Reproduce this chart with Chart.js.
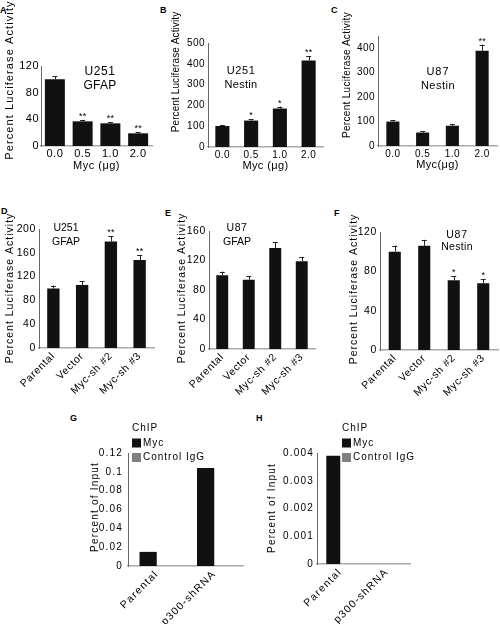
<!DOCTYPE html>
<html><head><meta charset="utf-8">
<script src="https://cdn.jsdelivr.net/npm/chart.js@4/dist/chart.umd.min.js"></script>
<style>
body{margin:0;background:#fff;}
#fig{position:relative;width:500px;height:624px;overflow:hidden;background:#fff;font-family:'Liberation Sans',Arial,sans-serif;}
#fig canvas{position:absolute;}
.lt{position:absolute;font-weight:bold;font-size:9px;line-height:9px;color:#000;}
</style></head><body>
<div id="fig">
<div class="lt" style="left:0px;top:6px">A</div>
<div class="lt" style="left:160px;top:6px">B</div>
<div class="lt" style="left:331px;top:6px">C</div>
<div class="lt" style="left:1px;top:207px">D</div>
<div class="lt" style="left:165px;top:209px">E</div>
<div class="lt" style="left:334px;top:209px">F</div>
<div class="lt" style="left:70px;top:414px">G</div>
<div class="lt" style="left:256px;top:414px">H</div>
</div>
<script>
// ---------- data ----------
const mycDoses = ['0.0', '0.5', '1.0', '2.0'];
const shCats = ['Parental', 'Vector', 'Myc-sh #2', 'Myc-sh #3'];
const chipCats = ['Parental', 'p300-shRNA'];

const aValues = [100, 37, 34, 19];
const aErrors = [5, 2, 1.5, 2];
const aStars = ['', '**', '**', '**'];
const aTicks = [0, 40, 80, 120];

const bValues = [101, 127, 185, 416];
const bErrors = [3, 6, 9, 20];
const bStars = ['', '*', '*', '**'];
const bTicks = [0, 100, 200, 300, 400, 500];

const cValues = [100, 55, 83, 390];
const cErrors = [6, 5, 5, 25];
const cStars = ['', '', '', '**'];
const cTicks = [0, 100, 200, 300, 400];

const dValues = [100, 106, 179, 148];
const dErrors = [5, 6, 9, 8];
const dStars = ['', '', '**', '**'];
const dTicks = [0, 40, 80, 120, 160, 200];

const eValues = [100, 94, 137, 119];
const eErrors = [5, 5, 8, 6];
const eStars = ['', '', '', ''];
const eTicks = [0, 40, 80, 120, 160];

const fValues = [100, 106, 71, 68];
const fErrors = [6, 6, 4, 4];
const fStars = ['', '', '*', '*'];
const fTicks = [0, 40, 80, 120];

const gMyc = [0.015, 0.104];
const gIgG = [0, 0];
const gTicks = [0, 0.02, 0.04, 0.06, 0.08, 0.1, 0.12];

const hMyc = [0.0039, 0];
const hIgG = [0, 0];
const hTicks = [0, 0.001, 0.002, 0.003, 0.004];

// ---------- drawing ----------
const FF = "'Liberation Sans', Arial, Helvetica, sans-serif";
const fig = document.getElementById('fig');
const BAR = '#111111';
const IGG = '#808080';

function makePanel(p) {
  const [bx, by, bw, bh] = p.box;
  const [l, t, r, b] = p.area;
  const cv = document.createElement('canvas');
  cv.width = bw; cv.height = bh;
  cv.style.left = bx + 'px'; cv.style.top = by + 'px';
  cv.style.width = bw + 'px'; cv.style.height = bh + 'px';
  fig.appendChild(cv);
  const yW = l - bx, xH = by + bh - b;
  const ls = (p.ls || 0) + 'px';

  const deco = {
    id: 'deco',
    beforeUpdate(chart) { chart.ctx.letterSpacing = ls; },
    beforeDraw(chart) { chart.ctx.letterSpacing = ls; },
    afterDatasetsDraw(chart) {
      if (!p.errs) return;
      const ctx = chart.ctx, ys = chart.scales.y;
      const meta = chart.getDatasetMeta(0);
      const vals = chart.data.datasets[0].data;
      ctx.save();
      p.errs.forEach((e, i) => {
        const x = meta.data[i].x;
        const y0 = ys.getPixelForValue(vals[i]);
        const y1 = ys.getPixelForValue(vals[i] + e);
        ctx.strokeStyle = '#222'; ctx.lineWidth = 1;
        ctx.beginPath();
        ctx.moveTo(Math.round(x) + 0.5, y0); ctx.lineTo(Math.round(x) + 0.5, y1);
        ctx.moveTo(x - 2.5, Math.round(y1) + 0.5); ctx.lineTo(x + 2.5, Math.round(y1) + 0.5);
        ctx.stroke();
        const s = p.stars[i];
        if (s) {
          ctx.fillStyle = '#000';
          ctx.font = (p.starFont || 9) + 'px ' + FF;
          ctx.letterSpacing = '0px';
          ctx.textAlign = 'center'; ctx.textBaseline = 'alphabetic';
          ctx.fillText(s, x, y1 - 1);
        }
      });
      ctx.restore();
    },
    afterDraw(chart) {
      const ctx = chart.ctx;
      ctx.save();
      ctx.fillStyle = '#000';
      const yt = p.yTitle;
      ctx.save();
      ctx.font = yt.size + 'px ' + FF;
      ctx.letterSpacing = yt.ls + 'px';
      ctx.translate(yt.x - bx, yt.y - by);
      ctx.rotate(-Math.PI / 2);
      ctx.textAlign = 'center'; ctx.textBaseline = 'middle';
      ctx.fillText(yt.text, 0, 0);
      ctx.restore();
      (p.notes || []).forEach(n => {
        ctx.font = n.size + 'px ' + FF;
        ctx.letterSpacing = (n.ls || 0) + 'px';
        ctx.textAlign = 'center'; ctx.textBaseline = 'middle';
        ctx.fillText(n.text, n.x - bx, n.y - by);
      });
      if (p.legend) {
        const L = p.legend;
        ctx.font = L.size + 'px ' + FF;
        ctx.letterSpacing = L.ls + 'px';
        ctx.textAlign = 'left'; ctx.textBaseline = 'middle';
        ctx.fillText(L.title, L.x - bx, L.y - by);
        chart.data.datasets.forEach((ds, i) => {
          const yy = L.y + 15 + i * 14.5;
          ctx.fillStyle = ds.backgroundColor;
          ctx.fillRect(L.x - bx, yy - 4.5 - by, 9, 9);
          ctx.fillStyle = '#000';
          ctx.fillText(ds.label, L.x + 11 - bx, yy - by);
        });
      }
      ctx.restore();
    }
  };

  const datasets = p.series.map(s => ({
    label: s.label, data: s.data, backgroundColor: s.color, borderWidth: 0,
    barPercentage: p.barPct, categoryPercentage: p.catPct
  }));
  const xTitleLH = (p.xTitleSize || 11) * 1.2;
  new Chart(cv, {
    type: 'bar',
    data: { labels: p.cats, datasets },
    options: {
      responsive: false, animation: false, devicePixelRatio: 1,
      layout: { padding: { left: 0, top: t - by, right: bx + bw - r, bottom: 0 } },
      plugins: { legend: { display: false }, tooltip: { enabled: false } },
      scales: {
        x: {
          grid: { display: false, drawTicks: false },
          border: { display: true, color: '#aaaaaa', width: 1.5 },
          ticks: { color: '#000', font: { family: FF, size: p.xFont }, padding: p.xPad,
                   maxRotation: p.rot, minRotation: p.rot, autoSkip: false },
          title: p.xTitle ? { display: true, text: p.xTitle, color: '#000',
                   font: { family: FF, size: p.xTitleSize || 11 },
                   padding: { top: 0, bottom: by + bh - xTitleLH / 2 - p.xTitleY } } : { display: false },
          afterFit(s) { s.height = xH; }
        },
        y: {
          min: 0, max: p.yMax,
          grid: { display: false, drawTicks: false },
          border: { display: true, color: '#666666', width: 1 },
          ticks: { color: '#000', font: { family: FF, size: p.yFont }, padding: p.yPad,
                   callback: v => String(v) },
          afterBuildTicks(s) { s.ticks = p.yTicks.map(v => ({ value: v })); },
          afterFit(s) { s.width = yW; }
        }
      }
    },
    plugins: [deco]
  });
}

const LUC = 'Percent Luciferase Activity';

makePanel({ box: [0, 0, 160, 178], area: [41, 66, 152, 146], cats: mycDoses,
  series: [{ label: 'Luciferase', data: aValues, color: BAR }], errs: aErrors, stars: aStars,
  yMax: 120, yTicks: aTicks, rot: 0, barPct: 0.72, catPct: 1,
  xFont: 11, yFont: 11, xPad: 1, yPad: 2, ls: 0.5,
  xTitle: 'Myc (μg)', xTitleSize: 11, xTitleY: 166,
  yTitle: { text: LUC, x: 10, y: 80, size: 11, ls: 1.1 },
  notes: [{ text: 'U251', x: 100, y: 72, size: 12, ls: 0.6 }, { text: 'GFAP', x: 100, y: 86, size: 12, ls: 0.3 }] });

makePanel({ box: [162, 0, 166, 178], area: [208, 43, 323, 147], cats: mycDoses,
  series: [{ label: 'Luciferase', data: bValues, color: BAR }], errs: bErrors, stars: bStars,
  yMax: 500, yTicks: bTicks, rot: 0, barPct: 0.49, catPct: 1,
  xFont: 10, yFont: 10, xPad: 2, yPad: 3, ls: 0.4,
  xTitle: 'Myc (μg)', xTitleSize: 11, xTitleY: 166,
  yTitle: { text: LUC, x: 176, y: 72, size: 10, ls: 0.1 },
  notes: [{ text: 'U251', x: 241, y: 71, size: 11, ls: 0.6 }, { text: 'Nestin', x: 241, y: 85, size: 11, ls: 0.3 }] });

makePanel({ box: [332, 0, 168, 178], area: [378, 36, 497, 146], cats: mycDoses,
  series: [{ label: 'Luciferase', data: cValues, color: BAR }], errs: cErrors, stars: cStars,
  yMax: 450, yTicks: cTicks, rot: 0, barPct: 0.44, catPct: 1,
  xFont: 10, yFont: 10, xPad: 2, yPad: 3, ls: 0.4,
  xTitle: 'Myc(μg)', xTitleSize: 11, xTitleY: 165,
  yTitle: { text: LUC, x: 347, y: 75, size: 10, ls: 0.3 },
  notes: [{ text: 'U87', x: 438, y: 72, size: 11, ls: 1 }, { text: 'Nestin', x: 438, y: 86, size: 11, ls: 0.5 }] });

makePanel({ box: [0, 200, 162, 200], area: [39, 229, 154, 348], cats: shCats,
  series: [{ label: 'Luciferase', data: dValues, color: BAR }], errs: dErrors, stars: dStars,
  yMax: 200, yTicks: dTicks, rot: 45, barPct: 0.43, catPct: 1,
  xFont: 10.5, yFont: 10.5, xPad: 2, yPad: 3, ls: 0.6,
  yTitle: { text: LUC, x: 10, y: 288, size: 10.5, ls: 1 },
  notes: [{ text: 'U251', x: 66, y: 228, size: 10.5 }, { text: 'GFAP', x: 66, y: 242, size: 10.5 }] });

makePanel({ box: [162, 200, 166, 200], area: [209, 231, 315, 349], cats: shCats,
  series: [{ label: 'Luciferase', data: eValues, color: BAR }], errs: eErrors, stars: eStars,
  yMax: 160, yTicks: eTicks, rot: 45, barPct: 0.45, catPct: 1,
  xFont: 10.5, yFont: 10.5, xPad: 2, yPad: 3, ls: 0.6,
  yTitle: { text: LUC, x: 182, y: 288, size: 10.5, ls: 1 },
  notes: [{ text: 'U87', x: 237, y: 228, size: 10.5, ls: 0.5 }, { text: 'GFAP', x: 237, y: 242, size: 10.5 }] });

makePanel({ box: [332, 200, 168, 200], area: [380, 232, 498, 350], cats: shCats,
  series: [{ label: 'Luciferase', data: fValues, color: BAR }], errs: fErrors, stars: fStars,
  yMax: 120, yTicks: fTicks, rot: 45, barPct: 0.41, catPct: 1,
  xFont: 10.5, yFont: 10.5, xPad: 2, yPad: 3, ls: 0.6,
  yTitle: { text: LUC, x: 354, y: 289, size: 10.5, ls: 1 },
  notes: [{ text: 'U87', x: 457, y: 235, size: 10.5, ls: 0.8 }, { text: 'Nestin', x: 457, y: 247, size: 10.5, ls: 0.3 }] });

makePanel({ box: [80, 418, 170, 206], area: [128, 453, 243, 566], cats: chipCats,
  series: [{ label: 'Myc', data: gMyc, color: BAR }, { label: 'Control IgG', data: gIgG, color: IGG }],
  yMax: 0.12, yTicks: gTicks, rot: 45, barPct: 1, catPct: 0.6,
  xFont: 10.5, yFont: 10, xPad: 2, yPad: 5, ls: 1.2,
  yTitle: { text: 'Percent of Input', x: 95, y: 507, size: 10, ls: 1.2 },
  legend: { title: 'ChIP', x: 132, y: 428, size: 10, ls: 1 } });

makePanel({ box: [260, 418, 170, 206], area: [317, 453, 410, 564], cats: chipCats,
  series: [{ label: 'Myc', data: hMyc, color: BAR }, { label: 'Control IgG', data: hIgG, color: IGG }],
  yMax: 0.004, yTicks: hTicks, rot: 45, barPct: 1, catPct: 0.6,
  xFont: 10.5, yFont: 10, xPad: 2, yPad: 3, ls: 1.2,
  yTitle: { text: 'Percent of Input', x: 272, y: 508, size: 10, ls: 1.2 },
  legend: { title: 'ChIP', x: 342, y: 428, size: 10, ls: 1 } });
</script>
</body></html>
